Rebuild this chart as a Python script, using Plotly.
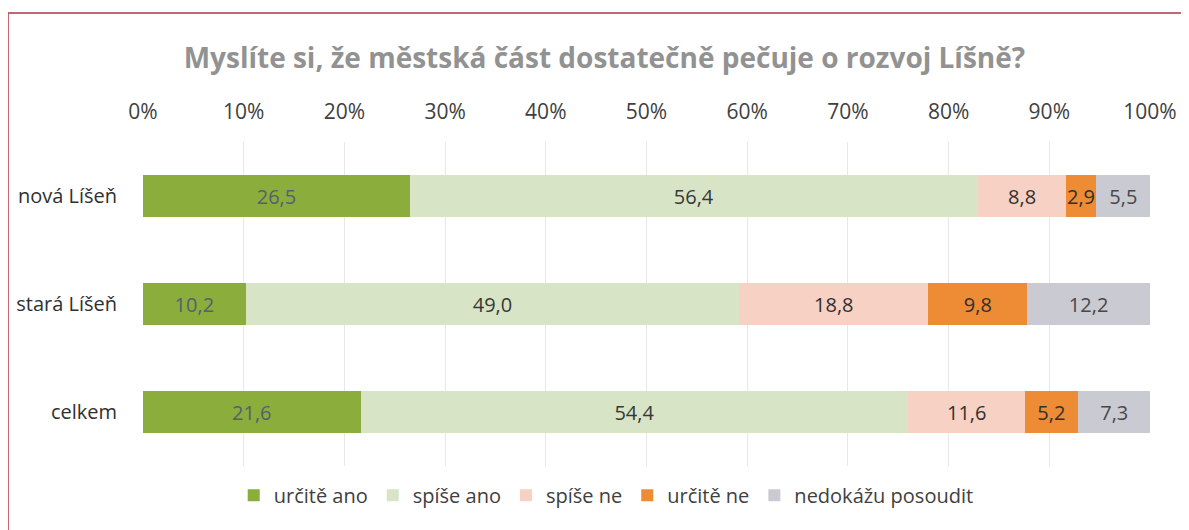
import plotly.graph_objects as go

categories = ["nová Líšeň", "stará Líšeň", "celkem"]
series_names = ["určitě ano", "spíše ano", "spíše ne", "určitě ne", "nedokážu posoudit"]
urcite_ano = [26.5, 10.2, 21.6]
spise_ano = [56.4, 49.0, 54.4]
spise_ne = [8.8, 18.8, 11.6]
urcite_ne = [2.9, 9.8, 5.2]
nedokazu = [5.5, 12.2, 7.3]
tick_vals = [0, 10, 20, 30, 40, 50, 60, 70, 80, 90, 100]
tick_text = ["0%", "10%", "20%", "30%", "40%", "50%", "60%", "70%", "80%", "90%", "100%"]

series_values = [urcite_ano, spise_ano, spise_ne, urcite_ne, nedokazu]
colors = ["#8bad3b", "#d7e5c6", "#f7d1c3", "#ee8b35", "#cacad2"]
text_colors = ["#566070", "#383838", "#303030", "#303030", "#484848"]

FONT = "Open Sans"

fig = go.Figure()
for name, vals, col, tcol in zip(series_names, series_values, colors, text_colors):
    fig.add_trace(go.Bar(
        y=categories, x=vals, name=name, orientation="h",
        marker=dict(color=col, line=dict(width=0)),
        text=[f"{v:.1f}".replace(".", ",") for v in vals],
        textposition="inside", insidetextanchor="middle", textangle=0,
        constraintext="none",
        textfont=dict(family=FONT, size=20, color=tcol),
        hoverinfo="x+y+name",
    ))

fig.update_layout(
    barmode="stack",
    bargap=0.61,
    width=1181, height=522,
    margin=dict(l=135, r=39, t=134, b=64, autoexpand=False),
    paper_bgcolor="white", plot_bgcolor="white",
    font=dict(family=FONT, color="#404040", size=15),
    title=dict(
        text="<b>Myslíte si, že městská část dostatečně pečuje o rozvoj Líšně?</b>",
        x=0.505, xanchor="center", y=0.904, yanchor="middle",
        font=dict(family=FONT, size=28, color="#929292"),
    ),
    xaxis=dict(
        side="top", range=[0, 100], tickvals=tick_vals, ticktext=tick_text,
        showgrid=True, gridcolor="#e8e8e8", gridwidth=1,
        zeroline=False, showline=False, ticks="",
        tickfont=dict(family=FONT, size=21, color="#404040"),
        ticklabelstandoff=18, fixedrange=True, automargin=False,
    ),
    yaxis=dict(
        categoryorder="array", categoryarray=categories, autorange="reversed",
        showgrid=False, zeroline=False, showline=False, ticks="",
        tickfont=dict(family=FONT, size=20, color="#303030"),
        ticklabelstandoff=25, automargin=False,
    ),
    legend=dict(
        orientation="h", x=0.46, xanchor="center", y=-0.09, yanchor="middle",
        font=dict(family=FONT, size=20, color="#404040"),
        traceorder="normal", itemwidth=30,
    ),
    shapes=[
        dict(type="line", xref="paper", yref="paper", x0=-0.134, x1=1.05, y0=1.398, y1=1.398,
             line=dict(color="#b0304a", width=1.5)),
        dict(type="line", xref="paper", yref="paper", x0=-0.134, x1=-0.134, y0=1.398, y1=-0.21,
             line=dict(color="#c0405a", width=1.5)),
    ],
)

fig.write_html("out.html")
